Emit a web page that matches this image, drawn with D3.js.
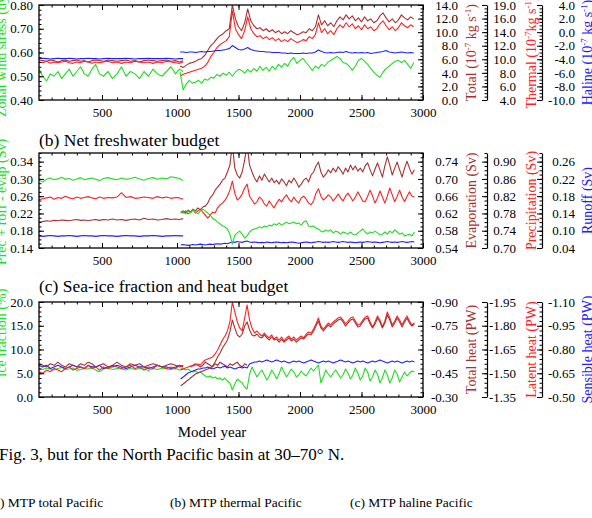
<!DOCTYPE html>
<html><head><meta charset="utf-8">
<script src="https://cdn.jsdelivr.net/npm/d3@7"></script>
<style>
body{margin:0;background:#fff}
svg{display:block}
text{font-family:"Liberation Serif","Times New Roman",serif}
</style>
</head><body>
<svg id="chart" width="592" height="518"></svg>
<script>
// ---------------- DATA ----------------
const X_TICKS = [500, 1000, 1500, 2000, 2500, 3000];
const SEG1_START = 0, SEG1_STEP = 30;          // first run (years)
const A_SEG2_START = 1025, A_SEG2_STEP = 25;   // second run, panel a
const BC_SEG2_START = 1030, BC_SEG2_STEP = 20; // second run, panels b, c
const C_ALT_START = 1110;

// Panel (a)
const windA1 = [0.53,0.50,0.48,0.51,0.50,0.52,0.49,0.51,0.53,0.50,0.52,0.54,0.51,0.50,0.53,0.55,0.51,0.50,0.52,0.49,0.51,0.54,0.50,0.52,0.51,0.49,0.52,0.50,0.53,0.51,0.50,0.52,0.54,0.51,0.53,0.52];
const windA2 = [0.517,0.442,0.467,0.483,0.471,0.475,0.483,0.471,0.488,0.483,0.496,0.492,0.508,0.500,0.513,0.504,0.517,0.500,0.517,0.529,0.525,0.513,0.529,0.517,0.533,0.521,0.542,0.525,0.538,0.521,0.542,0.529,0.550,0.538,0.554,0.542,0.567,0.579,0.554,0.567,0.575,0.558,0.542,0.525,0.542,0.533,0.550,0.542,0.558,0.567,0.575,0.583,0.575,0.558,0.554,0.542,0.525,0.542,0.567,0.575,0.563,0.550,0.533,0.517,0.504,0.496,0.517,0.533,0.542,0.554,0.563,0.567,0.558,0.567,0.550,0.533,0.558];
const totalA1 = [5.9,5.8,5.7,5.9,5.8,5.6,5.8,5.9,5.7,5.8,5.9,5.7,5.8,5.6,5.8,5.9,5.8,5.7,5.9,5.8,5.7,5.8,5.9,5.7,5.8,5.6,5.8,5.9,5.8,5.7,5.8,5.9,5.7,5.8,5.6,5.8];
const totalA2 = [4.96,4.81,5.10,5.40,5.54,5.69,5.98,6.13,6.56,7.29,8.02,8.46,9.04,9.48,9.77,10.21,10.50,14.0,11.96,10.79,10.21,11.38,13.42,11.67,10.94,10.50,10.65,10.21,10.50,10.06,10.35,9.92,10.21,9.77,10.06,9.77,10.21,9.92,9.63,9.77,10.06,9.92,10.50,10.21,10.79,12.54,11.08,11.67,10.94,11.38,10.79,11.67,12.25,11.81,12.54,11.96,12.40,11.67,12.10,11.52,12.25,11.67,11.96,11.38,11.67,12.40,12.83,12.10,11.52,11.96,11.38,11.81,12.54,12.10,11.81,12.25,11.96];
const thermalA1 = [9.6,9.5,9.7,9.4,9.6,9.5,9.6,9.7,9.5,9.4,9.6,9.5,9.7,9.6,9.4,9.6,9.5,9.6,9.7,9.5,9.6,9.4,9.6,9.5,9.7,9.6,9.5,9.6,9.4,9.6,9.5,9.7,9.6,9.5,9.4,9.6];
const thermalA2 = [7.50,7.79,7.94,8.08,8.23,8.38,8.52,8.67,8.96,9.54,10.42,11.00,11.73,12.17,12.46,12.75,13.33,17.13,14.50,13.63,13.04,14.21,16.25,14.50,13.77,13.33,13.48,13.04,13.33,12.90,13.19,12.75,13.04,12.60,12.90,12.60,13.04,12.75,12.46,12.60,12.90,12.75,13.33,13.04,13.63,15.38,13.92,14.50,13.77,14.21,13.63,14.50,15.08,14.65,15.38,14.79,15.23,14.50,14.94,14.35,15.08,14.50,14.79,14.21,14.50,15.23,15.67,14.94,14.35,14.79,14.21,14.65,15.38,14.94,14.65,15.08,14.79];
const halineA1 = [-3.9,-3.85,-3.9,-3.95,-3.9,-3.85,-3.9,-3.9,-3.85,-3.9,-3.95,-3.9,-3.9,-3.85,-3.9,-3.9,-3.95,-3.9,-3.85,-3.9,-3.9,-3.9,-3.85,-3.9,-3.95,-3.9,-3.9,-3.85,-3.9,-3.9,-3.9,-3.85,-3.9,-3.95,-3.9,-3.9];
const halineA2 = [-2.93,-2.93,-3.00,-2.93,-2.93,-3.00,-2.93,-2.85,-2.93,-2.85,-2.85,-2.78,-2.71,-2.71,-2.64,-2.56,-2.42,-1.98,-2.27,-2.56,-2.64,-2.49,-2.27,-2.56,-2.71,-2.78,-2.85,-2.85,-2.93,-2.93,-3.00,-3.00,-3.00,-3.07,-3.07,-3.15,-3.07,-3.15,-3.15,-3.15,-3.07,-3.15,-3.07,-3.07,-2.93,-2.64,-2.85,-3.00,-3.07,-3.00,-3.07,-3.00,-2.93,-3.00,-2.85,-3.00,-3.07,-3.00,-3.07,-3.00,-3.07,-3.00,-3.15,-3.07,-3.00,-2.93,-2.85,-2.71,-2.93,-3.00,-3.07,-3.00,-2.93,-3.00,-3.07,-3.00,-3.07];

// Panel (b)
const pmeB1 = [0.297,0.293,0.299,0.302,0.298,0.300,0.304,0.299,0.301,0.297,0.300,0.303,0.298,0.300,0.302,0.299,0.296,0.301,0.303,0.300,0.298,0.302,0.299,0.301,0.304,0.300,0.297,0.301,0.303,0.299,0.302,0.300,0.305,0.303,0.301,0.296];
const pmeB2 = [0.221,0.223,0.219,0.226,0.221,0.228,0.223,0.219,0.226,0.230,0.226,0.221,0.216,0.209,0.205,0.200,0.196,0.191,0.189,0.184,0.172,0.149,0.170,0.175,0.179,0.172,0.163,0.168,0.177,0.182,0.184,0.186,0.189,0.186,0.191,0.189,0.193,0.191,0.196,0.193,0.198,0.193,0.196,0.200,0.196,0.198,0.200,0.196,0.198,0.193,0.200,0.203,0.191,0.189,0.191,0.186,0.184,0.179,0.177,0.182,0.179,0.182,0.175,0.179,0.177,0.172,0.177,0.175,0.172,0.177,0.172,0.170,0.175,0.179,0.184,0.177,0.172,0.177,0.175,0.179,0.175,0.170,0.172,0.177,0.172,0.179,0.175,0.182,0.177,0.172,0.175,0.168,0.170,0.172,0.168,0.177];
const evapB1 = [0.600,0.601,0.603,0.602,0.604,0.603,0.605,0.604,0.603,0.605,0.606,0.604,0.605,0.603,0.605,0.606,0.604,0.606,0.605,0.607,0.605,0.606,0.604,0.606,0.607,0.605,0.609,0.606,0.607,0.605,0.606,0.608,0.606,0.607,0.606,0.608];
const evapB2 = [0.623,0.626,0.621,0.628,0.623,0.630,0.626,0.633,0.628,0.635,0.637,0.644,0.656,0.663,0.674,0.681,0.688,0.697,0.702,0.716,0.732,0.779,0.725,0.709,0.702,0.716,0.744,0.779,0.732,0.716,0.702,0.693,0.707,0.697,0.711,0.702,0.693,0.702,0.691,0.697,0.688,0.700,0.693,0.684,0.697,0.691,0.702,0.693,0.681,0.688,0.697,0.702,0.693,0.709,0.716,0.730,0.739,0.716,0.704,0.711,0.721,0.714,0.725,0.716,0.728,0.721,0.711,0.725,0.716,0.732,0.721,0.730,0.718,0.725,0.716,0.730,0.737,0.721,0.707,0.723,0.737,0.721,0.704,0.730,0.751,0.732,0.709,0.725,0.739,0.721,0.704,0.725,0.741,0.725,0.711,0.721];
const precipB1 = [0.812,0.814,0.816,0.818,0.813,0.817,0.815,0.820,0.816,0.814,0.818,0.815,0.817,0.819,0.816,0.814,0.818,0.815,0.817,0.816,0.818,0.828,0.817,0.819,0.815,0.816,0.818,0.817,0.815,0.819,0.816,0.818,0.815,0.817,0.816,0.813];
const precipB2 = [0.783,0.781,0.786,0.779,0.783,0.788,0.781,0.786,0.790,0.783,0.776,0.769,0.776,0.783,0.781,0.793,0.800,0.804,0.811,0.820,0.834,0.855,0.827,0.811,0.816,0.825,0.839,0.848,0.820,0.811,0.802,0.807,0.818,0.813,0.802,0.797,0.809,0.800,0.793,0.804,0.813,0.807,0.816,0.823,0.813,0.807,0.818,0.809,0.804,0.816,0.820,0.813,0.804,0.800,0.809,0.827,0.837,0.820,0.811,0.816,0.823,0.818,0.809,0.816,0.825,0.816,0.809,0.820,0.827,0.818,0.809,0.818,0.830,0.820,0.809,0.807,0.820,0.834,0.820,0.804,0.816,0.832,0.818,0.804,0.820,0.839,0.823,0.807,0.820,0.834,0.818,0.807,0.820,0.830,0.820,0.818];
const runoffB1 = [0.088,0.087,0.088,0.089,0.088,0.087,0.088,0.088,0.089,0.088,0.087,0.088,0.089,0.088,0.088,0.087,0.088,0.089,0.088,0.088,0.087,0.088,0.089,0.088,0.088,0.087,0.088,0.088,0.089,0.088,0.087,0.088,0.088,0.089,0.088,0.088];
const runoffB2 = [0.067,0.068,0.067,0.066,0.067,0.068,0.067,0.068,0.069,0.068,0.067,0.068,0.069,0.068,0.069,0.070,0.069,0.070,0.071,0.070,0.072,0.074,0.073,0.075,0.074,0.073,0.075,0.076,0.074,0.073,0.074,0.073,0.072,0.073,0.072,0.074,0.073,0.072,0.073,0.074,0.073,0.072,0.073,0.072,0.073,0.074,0.073,0.072,0.071,0.072,0.073,0.074,0.073,0.072,0.073,0.074,0.075,0.074,0.073,0.074,0.073,0.074,0.075,0.074,0.073,0.074,0.075,0.074,0.073,0.074,0.073,0.072,0.073,0.074,0.073,0.074,0.075,0.074,0.073,0.074,0.073,0.072,0.073,0.074,0.075,0.074,0.073,0.074,0.073,0.074,0.075,0.074,0.073,0.074,0.075,0.074];

// Panel (c)
const iceC1 = [6.0,5.8,6.1,5.9,5.7,6.0,6.2,5.8,5.9,6.1,5.6,5.8,6.0,5.9,6.2,5.7,5.3,5.9,6.1,5.8,6.0,5.9,5.7,6.1,5.8,6.0,5.9,5.6,6.0,5.8,6.1,5.9,5.8,6.0,5.7,5.9];
const iceC2 = [6.11,5.89,5.68,5.89,5.47,5.26,5.47,5.05,5.26,4.84,4.42,4.21,4.42,4.00,4.21,3.79,4.00,3.58,4.00,3.37,2.95,1.47,2.74,3.79,3.37,2.95,2.11,1.68,4.84,6.32,5.26,4.21,5.05,5.68,4.63,3.58,4.42,5.68,4.84,3.79,4.84,6.32,5.26,4.21,5.05,5.89,5.26,4.21,4.63,5.47,4.84,4.42,5.26,6.11,5.47,6.11,6.74,2.95,4.21,5.68,4.84,4.21,5.05,5.68,4.84,4.00,4.63,5.89,5.05,3.79,4.63,6.11,5.05,3.58,4.42,6.11,5.26,3.37,4.21,5.68,4.84,2.95,4.00,5.68,4.63,2.95,4.00,5.68,4.84,3.16,4.21,5.26,4.42,5.05,5.47,5.26];
const totHeatC1 = [-0.51,-0.50,-0.49,-0.51,-0.50,-0.52,-0.50,-0.49,-0.51,-0.50,-0.49,-0.51,-0.50,-0.52,-0.51,-0.49,-0.50,-0.51,-0.49,-0.50,-0.52,-0.50,-0.49,-0.51,-0.50,-0.51,-0.49,-0.50,-0.51,-0.50,-0.49,-0.50,-0.51,-0.50,-0.49,-0.50];
const totHeatC2 = [-0.370,-0.382,-0.395,-0.407,-0.420,-0.433,-0.445,-0.452,-0.458,-0.464,-0.471,-0.477,-0.483,-0.496,-0.521,-0.553,-0.578,-0.609,-0.635,-0.660,-0.711,-0.786,-0.736,-0.692,-0.679,-0.698,-0.748,-0.774,-0.723,-0.692,-0.685,-0.698,-0.679,-0.673,-0.692,-0.673,-0.660,-0.679,-0.660,-0.666,-0.647,-0.666,-0.647,-0.660,-0.673,-0.654,-0.666,-0.647,-0.660,-0.673,-0.666,-0.685,-0.698,-0.692,-0.717,-0.748,-0.780,-0.736,-0.717,-0.736,-0.755,-0.742,-0.761,-0.774,-0.786,-0.793,-0.774,-0.748,-0.767,-0.786,-0.793,-0.767,-0.742,-0.748,-0.774,-0.793,-0.799,-0.761,-0.736,-0.761,-0.799,-0.774,-0.736,-0.767,-0.818,-0.786,-0.742,-0.767,-0.799,-0.774,-0.742,-0.774,-0.799,-0.767,-0.748,-0.761];
const totHeatAltC = [-0.49,-0.50,-0.51,-0.50,-0.49,-0.50,-0.52,-0.51,-0.50,-0.49,-0.51,-0.50,-0.52,-0.51,-0.50,-0.49,-0.51,-0.50,-0.51,-0.52,-0.50,-0.49,-0.51,-0.50];
const latentC1 = [-1.51,-1.50,-1.52,-1.51,-1.53,-1.52,-1.51,-1.53,-1.54,-1.52,-1.53,-1.54,-1.53,-1.55,-1.53,-1.54,-1.52,-1.54,-1.53,-1.55,-1.54,-1.53,-1.54,-1.55,-1.53,-1.54,-1.52,-1.54,-1.53,-1.55,-1.54,-1.53,-1.54,-1.53,-1.55,-1.54];
const latentC2 = [-1.521,-1.527,-1.533,-1.539,-1.546,-1.546,-1.552,-1.558,-1.552,-1.571,-1.584,-1.590,-1.596,-1.603,-1.622,-1.647,-1.678,-1.710,-1.735,-1.767,-1.824,-1.950,-1.887,-1.824,-1.786,-1.767,-1.849,-1.931,-1.836,-1.786,-1.754,-1.767,-1.748,-1.735,-1.754,-1.735,-1.723,-1.742,-1.716,-1.729,-1.710,-1.729,-1.704,-1.723,-1.735,-1.716,-1.729,-1.710,-1.723,-1.735,-1.723,-1.748,-1.761,-1.754,-1.779,-1.811,-1.849,-1.798,-1.779,-1.798,-1.817,-1.805,-1.824,-1.836,-1.849,-1.855,-1.836,-1.811,-1.830,-1.849,-1.855,-1.830,-1.805,-1.811,-1.836,-1.855,-1.862,-1.824,-1.792,-1.824,-1.862,-1.836,-1.792,-1.830,-1.887,-1.849,-1.805,-1.830,-1.862,-1.836,-1.805,-1.836,-1.862,-1.830,-1.805,-1.817];
const sensC1 = [-0.70,-0.69,-0.70,-0.68,-0.69,-0.70,-0.69,-0.68,-0.69,-0.70,-0.69,-0.69,-0.68,-0.70,-0.69,-0.69,-0.70,-0.68,-0.69,-0.69,-0.70,-0.69,-0.68,-0.69,-0.70,-0.69,-0.69,-0.68,-0.69,-0.70,-0.69,-0.69,-0.68,-0.69,-0.70,-0.69];
const sensC2 = [-0.614,-0.626,-0.639,-0.652,-0.658,-0.664,-0.671,-0.677,-0.677,-0.683,-0.683,-0.689,-0.683,-0.677,-0.683,-0.689,-0.683,-0.689,-0.695,-0.683,-0.689,-0.683,-0.677,-0.683,-0.689,-0.683,-0.689,-0.683,-0.708,-0.715,-0.721,-0.721,-0.727,-0.721,-0.727,-0.734,-0.727,-0.721,-0.727,-0.734,-0.727,-0.721,-0.727,-0.721,-0.715,-0.721,-0.727,-0.721,-0.727,-0.721,-0.715,-0.721,-0.727,-0.734,-0.727,-0.721,-0.715,-0.721,-0.727,-0.721,-0.727,-0.721,-0.715,-0.721,-0.727,-0.734,-0.727,-0.721,-0.727,-0.721,-0.715,-0.721,-0.727,-0.721,-0.727,-0.721,-0.715,-0.721,-0.727,-0.721,-0.727,-0.734,-0.727,-0.721,-0.715,-0.721,-0.727,-0.721,-0.727,-0.721,-0.715,-0.721,-0.727,-0.721,-0.727,-0.721];

// Tick values and labels
const aLeftTicks = [0.40, 0.50, 0.60, 0.70, 0.80];
const aTotalTicks = [0, 2, 4, 6, 8, 10, 12, 14];
const aThermalTicks = [4, 6, 8, 10, 12, 14, 16, 18];
const aThermalLabels = ["4.0","6.0","8.0","10.0","12.0","14.0","16.0","19.0"];
const aHalineTicks = [-10, -8, -6, -4, -2, 0, 2, 4];
const bLeftTicks = [0.14, 0.18, 0.22, 0.26, 0.30, 0.34];
const bEvapTicks = [0.54, 0.58, 0.62, 0.66, 0.70, 0.74];
const bPrecipTicks = [0.70, 0.74, 0.78, 0.82, 0.86, 0.90];
const bRunoffTicks = [0.06, 0.10, 0.14, 0.18, 0.22, 0.26];
const bRunoffLabels = ["0.04","0.10","0.14","0.18","0.22","0.26"];
const cLeftTicks = [0, 5, 10, 15, 20];
const cTotalTicks = [-0.30, -0.45, -0.60, -0.75, -0.90];
const cLatentTicks = [-1.35, -1.50, -1.65, -1.80, -1.95];
const cSensTicks = [-0.50, -0.65, -0.80, -0.95, -1.10];

// ---------------- DRAWING ----------------
const GREEN = '#22dd22', RED = '#ff2020', BROWN = '#a83030', BLUE = '#2020ff';
const FONT = '"Liberation Serif","Times New Roman",serif';
const FL = 39, FR = 423;
const svg = d3.select('#chart');
const x = d3.scaleLinear().domain([0, 500, 1000, 3000]).range([39, 102, 177, 423]);

const pts = (vals, start, step) => vals.map((v, i) => [start + i * step, v]);
const fmt = n => d => d.toFixed(n);

const panels = [
  { top: 5, bottom: 100,
    left: { domain: [0.40, 0.80], ticks: aLeftTicks, minor: 0.02, f: fmt(2),
            title: [["Zonal wind stress (dyn cm"], ["-2", 1], [")"]], anchor: 'start', ty: 117 },
    right: [
      { domain: [0, 14], ticks: aTotalTicks, minor: 0.5, f: fmt(1), color: BROWN,
        title: [["Total (10"], ["-7", 1], [" kg s"], ["-1", 1], [")"]] },
      { domain: [4, 18], ticks: aThermalTicks, minor: 0.5, f: (d, i) => aThermalLabels[i], color: RED,
        title: [["Thermal (10"], ["-7", 1], ["kg s"], ["-1", 1], [")"]] },
      { domain: [-10, 4], ticks: aHalineTicks, minor: 0.5, f: fmt(1), color: BLUE,
        title: [["Haline (10"], ["-7", 1], [" kg s"], ["-1", 1], [")"]] } ],
    series: [
      { v: totalA1, s: SEG1_START, st: SEG1_STEP, ax: 1, c: BROWN },
      { v: thermalA1, s: SEG1_START, st: SEG1_STEP, ax: 2, c: RED },
      { v: halineA1, s: SEG1_START, st: SEG1_STEP, ax: 3, c: BLUE },
      { v: windA1, s: SEG1_START, st: SEG1_STEP, ax: 0, c: GREEN },
      { v: totalA2, s: A_SEG2_START, st: A_SEG2_STEP, ax: 1, c: BROWN },
      { v: thermalA2, s: A_SEG2_START, st: A_SEG2_STEP, ax: 2, c: RED },
      { v: halineA2, s: A_SEG2_START, st: A_SEG2_STEP, ax: 3, c: BLUE },
      { v: windA2, s: A_SEG2_START, st: A_SEG2_STEP, ax: 0, c: GREEN } ] },
  { top: 153, bottom: 248, heading: "(b) Net freshwater budget", hy: 146,
    left: { domain: [0.14, 0.36], ticks: bLeftTicks, minor: 0.01, f: fmt(2),
            title: [["Prec + roff - evap (Sv)"]], anchor: 'middle', ty: 202 },
    right: [
      { domain: [0.54, 0.76], ticks: bEvapTicks, minor: 0.01, f: fmt(2), color: BROWN, title: [["Evaporation (Sv)"]] },
      { domain: [0.70, 0.92], ticks: bPrecipTicks, minor: 0.01, f: fmt(2), color: RED, title: [["Precipitation (Sv)"]] },
      { domain: [0.06, 0.28], ticks: bRunoffTicks, minor: 0.01, f: (d, i) => bRunoffLabels[i], color: BLUE, title: [["Runoff (Sv)"]] } ],
    series: [
      { v: evapB1, s: SEG1_START, st: SEG1_STEP, ax: 1, c: BROWN },
      { v: precipB1, s: SEG1_START, st: SEG1_STEP, ax: 2, c: RED },
      { v: runoffB1, s: SEG1_START, st: SEG1_STEP, ax: 3, c: BLUE },
      { v: pmeB1, s: SEG1_START, st: SEG1_STEP, ax: 0, c: GREEN },
      { v: evapB2, s: BC_SEG2_START, st: BC_SEG2_STEP, ax: 1, c: BROWN },
      { v: precipB2, s: BC_SEG2_START, st: BC_SEG2_STEP, ax: 2, c: RED },
      { v: runoffB2, s: BC_SEG2_START, st: BC_SEG2_STEP, ax: 3, c: BLUE },
      { v: pmeB2, s: BC_SEG2_START, st: BC_SEG2_STEP, ax: 0, c: GREEN } ] },
  { top: 302, bottom: 397, heading: "(c) Sea-ice fraction and heat budget", hy: 292,
    left: { domain: [0, 20], ticks: cLeftTicks, minor: 1, f: fmt(1),
            title: [["Ice fraction (%)"]], anchor: 'middle', ty: 333 },
    right: [
      { domain: [-0.30, -0.90], ticks: cTotalTicks, minor: 0.03, f: fmt(2), color: BROWN, title: [["Total heat (PW)"]] },
      { domain: [-1.35, -1.95], ticks: cLatentTicks, minor: 0.03, f: fmt(2), color: RED, title: [["Latent heat (PW)"]] },
      { domain: [-0.50, -1.10], ticks: cSensTicks, minor: 0.03, f: fmt(2), color: BLUE, title: [["Sensible heat (PW)"]] } ],
    series: [
      { v: iceC1, s: SEG1_START, st: SEG1_STEP, ax: 0, c: GREEN },
      { v: sensC1, s: SEG1_START, st: SEG1_STEP, ax: 3, c: BLUE },
      { v: latentC1, s: SEG1_START, st: SEG1_STEP, ax: 2, c: RED },
      { v: totHeatC1, s: SEG1_START, st: SEG1_STEP, ax: 1, c: BROWN },
      { v: iceC2, s: BC_SEG2_START, st: BC_SEG2_STEP, ax: 0, c: GREEN },
      { v: totHeatAltC, s: C_ALT_START, st: BC_SEG2_STEP, ax: 1, c: BROWN },
      { v: sensC2, s: BC_SEG2_START, st: BC_SEG2_STEP, ax: 3, c: BLUE },
      { v: latentC2, s: BC_SEG2_START, st: BC_SEG2_STEP, ax: 2, c: RED },
      { v: totHeatC2, s: BC_SEG2_START, st: BC_SEG2_STEP, ax: 1, c: BROWN } ] }
];

const RIGHT_X = [FR, 487, 542];
const RIGHT_LABEL_END = [35, 29, 33];
const RIGHT_TITLE_X = [471, 531, 587];

function minorVals(domain, step) {
  const lo = Math.min(domain[0], domain[1]), hi = Math.max(domain[0], domain[1]);
  const n = Math.round((hi - lo) / step);
  return d3.range(n + 1).map(i => lo + i * step);
}

function richText(t, parts) {
  let sup = false;
  parts.forEach(([s, isSup]) => {
    const sp = t.append('tspan').text(s);
    if (isSup && !sup) { sp.attr('dy', -5).attr('font-size', 9); sup = true; }
    else if (isSup) { sp.attr('font-size', 9); }
    else if (sup) { sp.attr('dy', 5); sup = false; }
  });
}

function styleAxis(g) {
  g.attr('font-family', FONT).attr('font-size', 13);
  g.selectAll('line').attr('stroke', '#000').attr('stroke-width', 1);
  g.selectAll('path.domain').attr('stroke', '#000').attr('stroke-width', 1.2);
  g.selectAll('text').attr('fill', '#000');
}

panels.forEach((p, idx) => {
  const g = svg.append('g');
  const ys = [p.left, ...p.right].map(a => d3.scaleLinear().domain(a.domain).range([p.bottom, p.top]));
  const clipId = 'clip' + idx;
  svg.append('defs').append('clipPath').attr('id', clipId)
    .append('rect').attr('x', FL).attr('y', p.top).attr('width', FR - FL).attr('height', p.bottom - p.top);

  // series
  const lg = g.append('g').attr('clip-path', `url(#${clipId})`);
  p.series.forEach(s => {
    const y = ys[s.ax];
    lg.append('path').datum(pts(s.v, s.s, s.st))
      .attr('d', d3.line().x(d => x(d[0])).y(d => y(d[1])))
      .attr('fill', 'none').attr('stroke', s.c).attr('stroke-width', 1.1)
      .attr('stroke-linejoin', 'round');
  });

  // frame
  g.append('rect').attr('x', FL).attr('y', p.top).attr('width', FR - FL).attr('height', p.bottom - p.top)
    .attr('fill', 'none').attr('stroke', '#000').attr('stroke-width', 1.3);

  // x axes (bottom with labels, top ticks only)
  const xMinor = d3.range(100, 3000, 100);
  const xb = g.append('g').attr('transform', `translate(0,${p.bottom})`)
    .call(d3.axisBottom(x).tickValues(X_TICKS).tickSize(-5).tickSizeOuter(0).tickFormat(d3.format('d')));
  xb.select('.domain').remove();
  styleAxis(xb);
  xb.selectAll('text').attr('y', 17).attr('dy', null);
  const xbm = g.append('g').attr('transform', `translate(0,${p.bottom})`)
    .call(d3.axisBottom(x).tickValues(xMinor).tickSize(-2.5).tickFormat(''));
  xbm.select('.domain').remove(); styleAxis(xbm);
  const xt = g.append('g').attr('transform', `translate(0,${p.top})`)
    .call(d3.axisTop(x).tickValues(X_TICKS).tickSize(-5).tickFormat(''));
  xt.select('.domain').remove(); styleAxis(xt);
  const xtm = g.append('g').attr('transform', `translate(0,${p.top})`)
    .call(d3.axisTop(x).tickValues(xMinor).tickSize(-2.5).tickFormat(''));
  xtm.select('.domain').remove(); styleAxis(xtm);

  // left axis
  const la = g.append('g').attr('transform', `translate(${FL},0)`)
    .call(d3.axisLeft(ys[0]).tickValues(p.left.ticks).tickSize(-5).tickSizeOuter(0).tickPadding(6).tickFormat(p.left.f));
  la.select('.domain').remove(); styleAxis(la);
  const lam = g.append('g').attr('transform', `translate(${FL},0)`)
    .call(d3.axisLeft(ys[0]).tickValues(minorVals(p.left.domain, p.left.minor)).tickSize(-2.5).tickFormat(''));
  lam.select('.domain').remove(); styleAxis(lam);
  const lt = svg.append('text').attr('transform', `translate(6,${p.left.ty}) rotate(-90)`)
    .attr('text-anchor', p.left.anchor).attr('font-size', 14).attr('fill', GREEN);
  richText(lt, p.left.title);

  // right axes
  p.right.forEach((r, k) => {
    const y = ys[k + 1];
    const ra = g.append('g').attr('transform', `translate(${RIGHT_X[k]},0)`)
      .call(d3.axisRight(y).tickValues(r.ticks).tickSize(-5).tickSizeOuter(0).tickFormat(r.f));
    if (k === 0) ra.select('.domain').remove();
    styleAxis(ra);
    ra.selectAll('text').attr('text-anchor', 'end').attr('x', RIGHT_LABEL_END[k]);
    const ram = g.append('g').attr('transform', `translate(${RIGHT_X[k]},0)`)
      .call(d3.axisRight(y).tickValues(minorVals(r.domain, r.minor)).tickSize(-2.5).tickSizeOuter(0).tickFormat(''));
    ram.select('.domain').remove(); styleAxis(ram);
    const t = svg.append('text')
      .attr('transform', `translate(${RIGHT_TITLE_X[k]},${(p.top + p.bottom) / 2}) rotate(-90)`)
      .attr('text-anchor', 'middle').attr('dy', '0.35em').attr('font-size', 14).attr('fill', r.color);
    richText(t, r.title);
  });

  if (p.heading) {
    svg.append('text').attr('x', FL).attr('y', p.hy).attr('font-size', 17.5).attr('fill', '#000').text(p.heading);
  }
});

svg.append('text').attr('x', 212).attr('y', 437).attr('text-anchor', 'middle').attr('font-size', 15).text('Model year');
svg.append('text').attr('x', -1).attr('y', 460).attr('font-size', 17).text('Fig. 3, but for the North Pacific basin at 30\u201370\u00B0 N.');
svg.append('text').attr('x', -10.5).attr('y', 507).attr('font-size', 13.5).text('(a) MTP total Pacific');
svg.append('text').attr('x', 170).attr('y', 507).attr('font-size', 13.5).text('(b) MTP thermal Pacific');
svg.append('text').attr('x', 350).attr('y', 507).attr('font-size', 13.5).text('(c) MTP haline Pacific');
</script>
</body></html>
